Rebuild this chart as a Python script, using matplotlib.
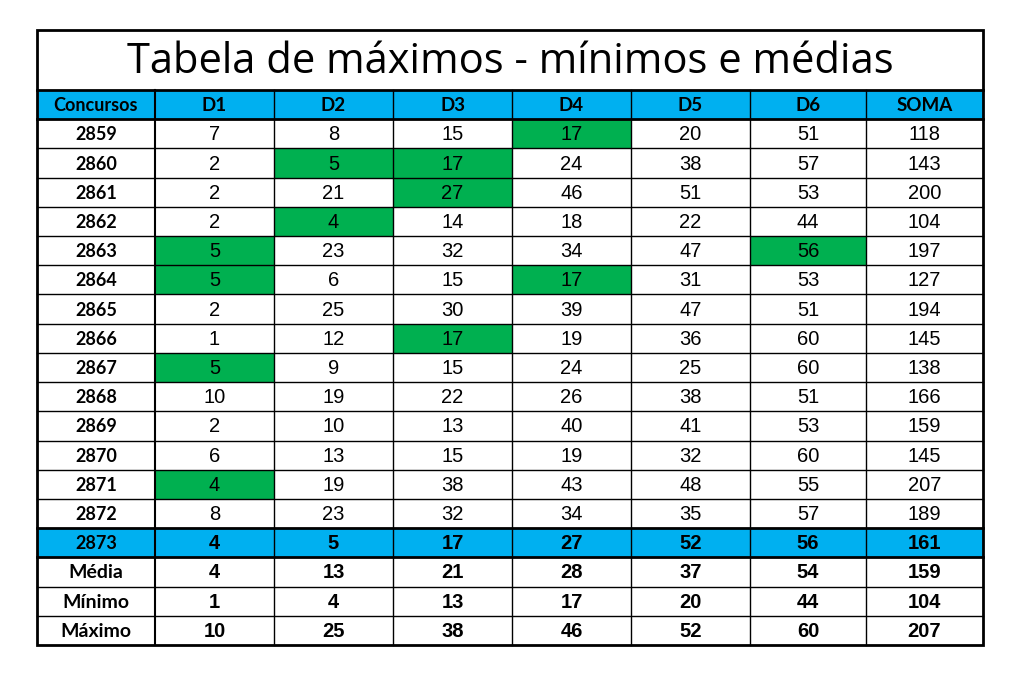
import matplotlib
matplotlib.use("Agg")
import matplotlib.pyplot as plt
from matplotlib.patches import Rectangle

title = "Tabela de máximos - mínimos e médias"
headers = ["Concursos", "D1", "D2", "D3", "D4", "D5", "D6", "SOMA"]
concursos = ["2859", "2860", "2861", "2862", "2863", "2864", "2865", "2866",
             "2867", "2868", "2869", "2870", "2871", "2872", "2873"]
d1 = [7, 2, 2, 2, 5, 5, 2, 1, 5, 10, 2, 6, 4, 8, 4]
d2 = [8, 5, 21, 4, 23, 6, 25, 12, 9, 19, 10, 13, 19, 23, 5]
d3 = [15, 17, 27, 14, 32, 15, 30, 17, 15, 22, 13, 15, 38, 32, 17]
d4 = [17, 24, 46, 18, 34, 17, 39, 19, 24, 26, 40, 19, 43, 34, 27]
d5 = [20, 38, 51, 22, 47, 31, 47, 36, 25, 38, 41, 32, 48, 35, 52]
d6 = [51, 57, 53, 44, 56, 53, 51, 60, 60, 51, 53, 60, 55, 57, 56]
soma = [118, 143, 200, 104, 197, 127, 194, 145, 138, 166, 159, 145, 207, 189, 161]
stat_labels = ["Média", "Mínimo", "Máximo"]
media = [4, 13, 21, 28, 37, 54, 159]
minimo = [1, 4, 13, 17, 20, 44, 104]
maximo = [10, 25, 38, 46, 52, 60, 207]
# highlighted cells: (row index, column index among D1..D6 -> 1..6)
green_cells = [(0, 4), (1, 2), (1, 3), (2, 3), (3, 2), (4, 1), (4, 6),
               (5, 1), (5, 4), (7, 3), (8, 1), (12, 1)]

BLUE = "#00B0F0"
GREEN = "#00B050"
col_x = [37, 155, 274, 393, 512, 631, 750, 866, 983]
top, title_bot, bottom = 30, 90, 645
nrows = 1 + len(concursos) + 3
rh = (bottom - title_bot) / nrows

fig = plt.figure(figsize=(10.17, 6.75), dpi=100)
ax = fig.add_axes([0, 0, 1, 1])
ax.set_xlim(0, 1017)
ax.set_ylim(675, 0)
ax.axis("off")

def row_y(r):
    return title_bot + r * rh

def cell_text(c, r, s, bold=False, font="Liberation Sans", size=14.5):
    ax.text((col_x[c] + col_x[c + 1]) / 2, row_y(r) + rh / 2 + 1, s,
            ha="center", va="center", fontsize=size, family=font,
            fontweight="bold" if bold else "normal")

# backgrounds
ax.add_patch(Rectangle((col_x[0], row_y(0)), col_x[-1] - col_x[0], rh, color=BLUE, lw=0))
ax.add_patch(Rectangle((col_x[0], row_y(15)), col_x[-1] - col_x[0], rh, color=BLUE, lw=0))
for r, c in green_cells:
    ax.add_patch(Rectangle((col_x[c], row_y(r + 1)), col_x[c + 1] - col_x[c], rh, color=GREEN, lw=0))

# title
ax.text((col_x[0] + col_x[-1]) / 2, (top + title_bot) / 2 + 2, title,
        ha="center", va="center", fontsize=30, family="Open Sans")

# header
for c, h in enumerate(headers):
    cell_text(c, 0, h, bold=True, font="Lato", size=13 if c == 0 else 13.5)

# data rows
for i, conc in enumerate(concursos):
    r = i + 1
    last = i == len(concursos) - 1
    cell_text(0, r, conc, bold=True, font="Lato", size=13)
    vals = [d1[i], d2[i], d3[i], d4[i], d5[i], d6[i], soma[i]]
    for j, v in enumerate(vals):
        cell_text(j + 1, r, str(v), bold=last)

for k, (lab, vals) in enumerate(zip(stat_labels, [media, minimo, maximo])):
    r = 16 + k
    cell_text(0, r, lab, bold=True, font="Lato", size=14)
    for j, v in enumerate(vals):
        cell_text(j + 1, r, str(v), bold=True)

# grid lines
for r in range(1, nrows):
    lw = 2 if r in (1, 15, 16) else 1
    ax.plot([col_x[0], col_x[-1]], [row_y(r), row_y(r)], color="black", lw=lw)
ax.plot([col_x[0], col_x[-1]], [title_bot, title_bot], color="black", lw=2)
for c in range(1, len(col_x) - 1):
    ax.plot([col_x[c], col_x[c]], [title_bot, bottom], color="black", lw=1.5 if c == 1 else 1)
ax.add_patch(Rectangle((col_x[0], top), col_x[-1] - col_x[0], bottom - top,
                       fill=False, ec="black", lw=2))

fig.savefig("out.png", dpi=100)
